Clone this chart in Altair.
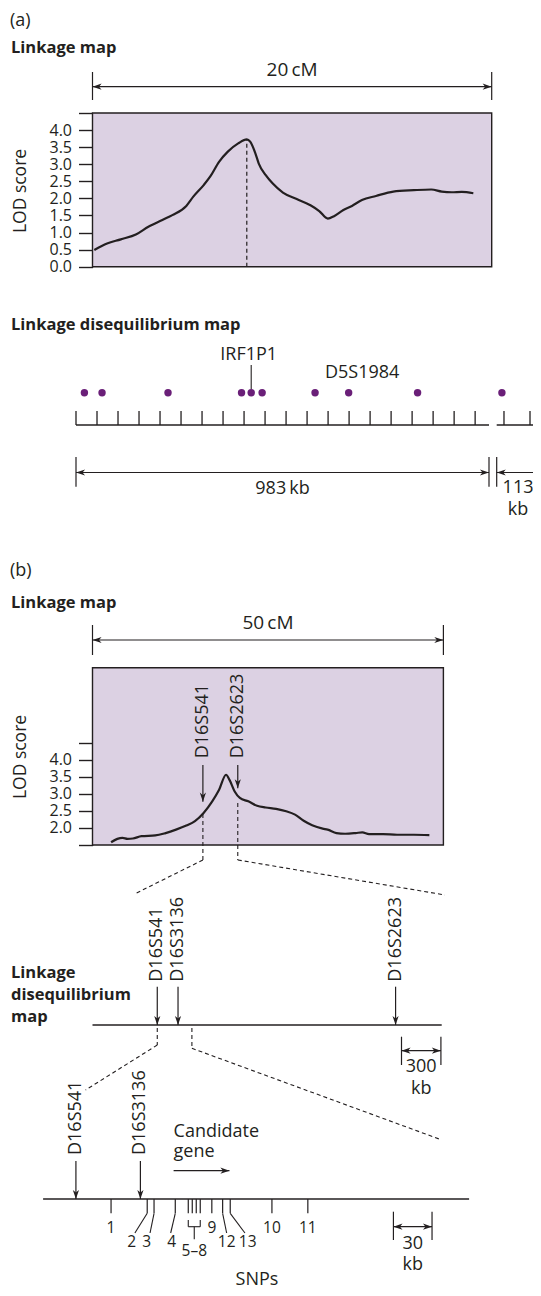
import altair as alt
import pandas as pd

FONT = "Open Sans"
INK = "#231f20"
FILL = "#dcd1e3"
PURPLE = "#6a1f78"
HEAD = "M0,0L-1,-0.34L-0.72,0L-1,0.34Z"

# ---------------- data ----------------
# (a) linkage map: LOD score along a 20 cM interval
lod_a_cm = [0.09, 0.73, 1.42, 2.2, 2.8, 3.5, 4.0, 4.7, 5.05, 5.57, 5.91, 6.34, 6.78, 7.3, 7.73,
            7.9, 8.16, 8.33, 8.68, 9.02, 9.54, 10.23, 10.92, 11.36, 11.79, 12.1, 12.57, 13.0,
            13.5, 14.2, 15.07, 16.1, 16.97, 17.5, 18.0, 18.5, 19.08]
lod_a_score = [0.49, 0.68, 0.80, 0.95, 1.17, 1.37, 1.51, 1.78, 2.05, 2.39, 2.65, 3.07, 3.37, 3.61, 3.73,
               3.66, 3.32, 3.02, 2.68, 2.44, 2.17, 1.98, 1.80, 1.63, 1.41, 1.48, 1.66, 1.78,
               1.95, 2.07, 2.20, 2.24, 2.26, 2.20, 2.18, 2.19, 2.15]
lod_a_axis_ticks = [0.0, 0.5, 1.0, 1.5, 2.0, 2.5, 3.0, 3.5, 4.0, 4.5]
lod_a_span_cm = 20

# (a) linkage disequilibrium map
ld_a_tick_kb = [0, 50, 100, 150, 200, 250, 300, 350, 400, 450, 500, 550, 600, 650, 700, 750,
                800, 850, 900, 950]
ld_a_tick2_kb = [1000, 1050]
ld_a_span_kb = 983
ld_a_span2_kb = 113
ld_a_marker_kb = [20, 62, 219, 394, 417, 443, 569, 649, 813]
ld_a_marker2_kb = [996, 1064]
ld_a_named = ["IRF1P1", "D5S1984"]
ld_a_named_kb = [417, 649]

# (b) linkage map: LOD score along a 50 cM interval
lod_b_cm = [2.65, 3.54, 4.28, 5.0, 5.75, 6.98, 8.95, 10.42, 11.9, 13.37, 14.6, 15.83, 17.06, 18.04,
            19.03, 19.52, 20.26, 21.0, 22.2, 23.45, 24.68, 26.16, 27.6, 28.86, 30.09, 31.3, 32.8,
            33.5, 34.76, 36.0, 37.5, 38.45, 39.4, 41.4, 43.4, 45.8, 48.0]
lod_b_score = [1.58, 1.68, 1.71, 1.68, 1.69, 1.76, 1.78, 1.85, 1.95, 2.07, 2.20, 2.44, 2.78, 3.12,
               3.56, 3.41, 3.07, 2.88, 2.78, 2.65, 2.60, 2.56, 2.49, 2.39, 2.21, 2.08, 1.98,
               1.95, 1.85, 1.83, 1.85, 1.87, 1.82, 1.82, 1.80, 1.80, 1.79]
lod_b_axis_ticks = [1.5, 2.0, 2.5, 3.0, 3.5, 4.0, 4.5]
lod_b_span_cm = 50
lod_b_markers = ["D16S541", "D16S2623"]
lod_b_marker_cm = [15.73, 20.7]

# (b) linkage disequilibrium map
ld_b_markers = ["D16S541", "D16S3136", "D16S2623"]
ld_b_marker_kb = [493, 651, 2307]
ld_b_length_kb = 2658
ld_b_scale_kb = 300

# (b) SNP map
snp_map_markers = ["D16S541", "D16S3136"]
snp_map_marker_kb = [25.5, 75.6]
snp_ids = ["1", "2", "3", "4", "5", "6", "7", "8", "9", "12", "13", "10", "11"]
snp_kb = [52.8, 80.9, 86.2, 102.7, 112.8, 115.9, 119.0, 122.1, 131.1, 139.5, 145.4, 177.8, 205.7]
snp_length_kb = 331
snp_scale_kb = 30
gene_kb = [101.4, 144.8]

# ---------------- layout (page pixels) ----------------
W, H, M = 525, 1280, 8
FS = 18


def sc(d0, d1, p0, p1):
    return alt.Scale(domain=[d0, d1], range=[p0 - M, p1 - M], nice=False, zero=False)


PX = sc(M, M + W, M, M + W)
PY = sc(M, M + H, M, M + H)
A_X = sc(0, lod_a_span_cm, 92.5, 491.7)
A_Y = sc(0, 4.5, 266.7, 113.0)
LDA_X = sc(0, ld_a_span_kb, 76, 489)
LDA2_X = sc(986, 986 + ld_a_span2_kb, 496.7, 555.5)
B_X = sc(0, lod_b_span_cm, 92.5, 443.4)
B_Y = sc(1.5, 6.7, 845, 667.7)
LDB_X = sc(0, ld_b_length_kb, 92.5, 441.7)
SNP_X = sc(0, snp_length_kb, 43.1, 469.1)
K_SNP = (469.1 - 43.1) / snp_length_kb


def seg(rows, xs, ys, dash=None, width=1.3):
    df = pd.DataFrame(rows, columns=["x", "y", "x2", "y2"])
    kw = dict(color=INK, strokeWidth=width)
    if dash:
        kw["strokeDash"] = dash
    return alt.Chart(df).mark_rule(**kw).encode(
        x=alt.X("x:Q", scale=xs, axis=None), x2="x2:Q",
        y=alt.Y("y:Q", scale=ys, axis=None), y2="y2:Q")


def heads(rows, xs, ys, angle, size=330):
    df = pd.DataFrame(rows, columns=["x", "y"])
    return alt.Chart(df).mark_point(shape=HEAD, filled=True, size=size, color=INK, opacity=1,
                                    strokeWidth=0, angle=angle).encode(
        x=alt.X("x:Q", scale=xs, axis=None), y=alt.Y("y:Q", scale=ys, axis=None))


def label(rows, xs, ys, size=FS, weight="normal", align="center", angle=0, dx=0):
    df = pd.DataFrame(rows, columns=["t", "x", "y"])
    return alt.Chart(df).mark_text(font=FONT, fontSize=size, fontWeight=weight, align=align,
                                   baseline="middle", angle=angle, color=INK, dx=dx).encode(
        x=alt.X("x:Q", scale=xs, axis=None), y=alt.Y("y:Q", scale=ys, axis=None), text="t:N")


def lod_axis(ticks, offset, expr):
    return alt.Axis(orient="left", offset=offset, values=ticks, labelExpr=expr, tickSize=14,
                    tickWidth=1.4, tickColor=INK, domainColor=INK, domainWidth=1.4,
                    labelFont=FONT, labelFontSize=16, labelColor=INK, labelPadding=7,
                    labelOverlap=False, labelFlush=False, labelBaseline="middle",
                    grid=False, title=None)


layers = []

# ---------- texts in page coordinates ----------
layers.append(label([("(a)", 10, 20.5), ("(b)", 10, 570.7),
                     ("Candidate", 173.6, 1132), ("gene", 173.6, 1152)], PX, PY, align="left"))
layers.append(label([("Linkage map", 11, 48), ("Linkage disequilibrium map", 11, 325),
                     ("Linkage map", 11, 603.3), ("Linkage", 11, 973.3),
                     ("disequilibrium", 11, 995), ("map", 11, 1016.7)],
                    PX, PY, size=16.5, weight="bold", align="left"))
layers.append(label([("LOD score", 21, 191), ("LOD score", 21, 757)], PX, PY, size=17.5, angle=270))
layers.append(label([("SNPs", 257, 1279.5)], PX, PY))

# ---------- (a) linkage map ----------
box_a = pd.DataFrame({"x": [0], "x2": [lod_a_span_cm], "y": [lod_a_axis_ticks[0]],
                      "y2": [lod_a_axis_ticks[-1]]})
layers.append(alt.Chart(box_a).mark_rect(fill=FILL, stroke=INK, strokeWidth=1.4).encode(
    x=alt.X("x:Q", scale=A_X, axis=None), x2="x2:Q",
    y=alt.Y("y:Q", scale=A_Y, axis=lod_axis(lod_a_axis_ticks, -(92.5 - M),
                                             "datum.value > 4.4 ? '' : format(datum.value, '.1f')")),
    y2="y2:Q"))
curve_a = pd.DataFrame({"cm": lod_a_cm, "lod": lod_a_score})
layers.append(alt.Chart(curve_a).mark_line(color=INK, strokeWidth=2.2, interpolate="monotone").encode(
    x=alt.X("cm:Q", scale=A_X, axis=None), y=alt.Y("lod:Q", scale=A_Y, axis=None)))
ipk = lod_a_score.index(max(lod_a_score))
layers.append(alt.Chart(pd.DataFrame({"x": [lod_a_cm[ipk]], "y": [0], "y2": [lod_a_score[ipk]]}))
              .mark_rule(color=INK, strokeWidth=1.2, strokeDash=[4, 3]).encode(
    x=alt.X("x:Q", scale=A_X, axis=None), y=alt.Y("y:Q", scale=A_Y, axis=None), y2="y2:Q"))
# 20 cM span bar
layers.append(seg([(0, 86.7, lod_a_span_cm, 86.7), (0, 72, 0, 100),
                   (lod_a_span_cm, 72, lod_a_span_cm, 100)], A_X, PY, width=1.2))
layers.append(heads([(0, 86.7)], A_X, PY, 180))
layers.append(heads([(lod_a_span_cm, 86.7)], A_X, PY, 0))
layers.append(label([(f"{lod_a_span_cm}\u2009cM", lod_a_span_cm / 2, 70)], A_X, PY, size=19))

# ---------- (a) LD map ----------
layers.append(seg([(0, 425, ld_a_span_kb, 425)], LDA_X, PY, width=1.5))
layers.append(seg([(k, 411, k, 425) for k in ld_a_tick_kb], LDA_X, PY))
layers.append(seg([(986, 425, 986 + ld_a_span2_kb, 425)], LDA2_X, PY, width=1.5))
layers.append(seg([(k, 411, k, 425) for k in ld_a_tick2_kb], LDA2_X, PY))
dots = pd.DataFrame({"kb": ld_a_marker_kb, "y": [392.7] * len(ld_a_marker_kb)})
layers.append(alt.Chart(dots).mark_point(shape="circle", filled=True, size=55, color=PURPLE, opacity=1).encode(
    x=alt.X("kb:Q", scale=LDA_X, axis=None), y=alt.Y("y:Q", scale=PY, axis=None)))
dots2 = pd.DataFrame({"kb": ld_a_marker2_kb, "y": [392.7] * len(ld_a_marker2_kb)})
layers.append(alt.Chart(dots2).mark_point(shape="circle", filled=True, size=55, color=PURPLE, opacity=1).encode(
    x=alt.X("kb:Q", scale=LDA2_X, axis=None), y=alt.Y("y:Q", scale=PY, axis=None)))
layers.append(seg([(ld_a_named_kb[0], 365, ld_a_named_kb[0], 389)], LDA_X, PY, width=1.1))
layers.append(label([(ld_a_named[0], ld_a_named_kb[0], 355)], LDA_X, PY, dx=-2.5))
layers.append(label([(ld_a_named[1], ld_a_named_kb[1], 373)], LDA_X, PY, dx=13.5))
# 983 kb / 113 kb span bars
layers.append(seg([(0, 472.5, ld_a_span_kb, 472.5), (0, 457, 0, 486.7),
                   (ld_a_span_kb, 457, ld_a_span_kb, 486.7)], LDA_X, PY, width=1.2))
layers.append(heads([(0, 472.5)], LDA_X, PY, 180))
layers.append(heads([(ld_a_span_kb, 472.5)], LDA_X, PY, 0))
layers.append(label([(f"{ld_a_span_kb}\u2009kb", ld_a_span_kb / 2, 489.3)], LDA_X, PY))
layers.append(seg([(986, 472.5, 986 + ld_a_span2_kb, 472.5), (986, 457, 986, 486.7)],
                  LDA2_X, PY, width=1.2))
layers.append(heads([(986, 472.5)], LDA2_X, PY, 180))
layers.append(label([(str(ld_a_span2_kb), 1027, 488), ("kb", 1027, 510)], LDA2_X, PY))

# ---------- (b) linkage map ----------
box_b = pd.DataFrame({"x": [0], "x2": [lod_b_span_cm], "y": [1.5], "y2": [6.7]})
layers.append(alt.Chart(box_b).mark_rect(fill=FILL, stroke=INK, strokeWidth=1.4).encode(
    x=alt.X("x:Q", scale=B_X, axis=None), x2="x2:Q",
    y=alt.Y("y:Q", scale=B_Y, axis=lod_axis(lod_b_axis_ticks, -(92.5 - M),
                                             "(datum.value < 1.9 || datum.value > 4.4) ? '' : format(datum.value, '.1f')")),
    y2="y2:Q"))
curve_b = pd.DataFrame({"cm": lod_b_cm, "lod": lod_b_score})
layers.append(alt.Chart(curve_b).mark_line(color=INK, strokeWidth=2.2, interpolate="monotone").encode(
    x=alt.X("cm:Q", scale=B_X, axis=None), y=alt.Y("lod:Q", scale=B_Y, axis=None)))
layers.append(seg([(0, 640, lod_b_span_cm, 640), (0, 625, 0, 655),
                   (lod_b_span_cm, 625, lod_b_span_cm, 655)], B_X, PY, width=1.2))
layers.append(heads([(0, 640)], B_X, PY, 180))
layers.append(heads([(lod_b_span_cm, 640)], B_X, PY, 0))
layers.append(label([(f"{lod_b_span_cm}\u2009cM", lod_b_span_cm / 2, 623.3)], B_X, PY, size=19))
# markers on the LOD curve
tips_b = [801.7, 788.3]
dash_top_b = [814, 803]
layers.append(label([(n, c, 758.3) for n, c in zip(lod_b_markers, lod_b_marker_cm)], B_X, PY,
                    align="left", angle=270))
layers.append(seg([(c, 765, c, t) for c, t in zip(lod_b_marker_cm, tips_b)], B_X, PY, width=1.2))
layers.append(heads([(c, t) for c, t in zip(lod_b_marker_cm, tips_b)], B_X, PY, 90))
layers.append(seg([(c, d, c, 860) for c, d in zip(lod_b_marker_cm, dash_top_b)], B_X, PY,
                  dash=[4, 3], width=1.1))
layers.append(seg([(202.9, 860, 133.9, 894.3), (237.8, 860, 445, 895)], PX, PY,
                  dash=[4, 3], width=1.1))

# ---------- (b) LD map ----------
layers.append(seg([(0, 1025, ld_b_length_kb, 1025)], LDB_X, PY, width=1.6))
layers.append(label([(n, k, 981.7) for n, k in zip(ld_b_markers, ld_b_marker_kb)], LDB_X, PY,
                    align="left", angle=270))
layers.append(seg([(k, 986.7, k, 1025) for k in ld_b_marker_kb], LDB_X, PY, width=1.2))
layers.append(heads([(k, 1025) for k in ld_b_marker_kb], LDB_X, PY, 90))
sb0 = 2352
layers.append(seg([(sb0, 1050.7, sb0 + ld_b_scale_kb, 1050.7), (sb0, 1036.7, sb0, 1065),
                   (sb0 + ld_b_scale_kb, 1036.7, sb0 + ld_b_scale_kb, 1065)], LDB_X, PY, width=1.2))
layers.append(heads([(sb0, 1050.7)], LDB_X, PY, 180))
layers.append(heads([(sb0 + ld_b_scale_kb, 1050.7)], LDB_X, PY, 0))
layers.append(label([(str(ld_b_scale_kb), sb0 + ld_b_scale_kb / 2, 1066.7),
                     ("kb", sb0 + ld_b_scale_kb / 2, 1089.3)], LDB_X, PY))
layers.append(seg([(ld_b_marker_kb[0], 1028, ld_b_marker_kb[0], 1045)], LDB_X, PY,
                  dash=[4, 3], width=1.1))
layers.append(seg([(157.3, 1045, 85.6, 1090), (191.9, 1028, 191.9, 1048.3),
                   (191.9, 1048.3, 440, 1139.3)], PX, PY, dash=[4, 3], width=1.1))

# ---------- (b) SNP map ----------
layers.append(seg([(0, 1199, snp_length_kb, 1199)], SNP_X, PY, width=1.6))
layers.append(label([(n, k, 1155) for n, k in zip(snp_map_markers, snp_map_marker_kb)], SNP_X, PY,
                    align="left", angle=270))
layers.append(seg([(k, 1161, k, 1199) for k in snp_map_marker_kb], SNP_X, PY, width=1.2))
layers.append(heads([(k, 1199) for k in snp_map_marker_kb], SNP_X, PY, 90))
layers.append(seg([(gene_kb[0], 1170.7, gene_kb[1], 1170.7)], SNP_X, PY, width=1.2))
layers.append(heads([(gene_kb[1], 1170.7)], SNP_X, PY, 0))
layers.append(seg([(k, 1199, k, 1213.3) for k in snp_kb], SNP_X, PY, width=1.2))

snp_pos = dict(zip(snp_ids, snp_kb))
# label placement: (label x offset px, label y, leader end offset px or None)
snp_label_layout = {
    "1": (0, 1228.3, None), "2": (-15.6, 1241.7, -12.3), "3": (-7.3, 1241.7, -4.0),
    "4": (-3.6, 1241.7, -4.6), "9": (0, 1228.3, None), "12": (4.0, 1241.7, 4.0),
    "13": (17.4, 1241.7, 14.7), "10": (0, 1228.3, None), "11": (0, 1228.3, None),
}
snp_lab_rows, leader_rows = [], []
for sid, (dxl, yl, dle) in snp_label_layout.items():
    k = snp_pos[sid]
    snp_lab_rows.append((sid, k + dxl / K_SNP, yl))
    if dle is not None:
        leader_rows.append((k, 1213.3, k + dle / K_SNP, 1233))
grp = [snp_pos[s] for s in ["5", "6", "7", "8"]]
gmid = (grp[0] + grp[-1]) / 2
snp_lab_rows.append(("5\u20138", gmid, 1250.7))
leader_rows += [(grp[0], 1220, grp[0], 1226.7), (grp[-1], 1220, grp[-1], 1226.7),
                (grp[0], 1226.7, grp[-1], 1226.7), (gmid, 1226.7, gmid, 1239.3)]
layers.append(label(snp_lab_rows, SNP_X, PY, size=15.5))
layers.append(seg(leader_rows, SNP_X, PY, width=1.1))
s0 = 272.2
layers.append(seg([(s0, 1226.7, s0 + snp_scale_kb, 1226.7), (s0, 1211.7, s0, 1240),
                   (s0 + snp_scale_kb, 1211.7, s0 + snp_scale_kb, 1240)], SNP_X, PY, width=1.2))
layers.append(heads([(s0, 1226.7)], SNP_X, PY, 180))
layers.append(heads([(s0 + snp_scale_kb, 1226.7)], SNP_X, PY, 0))
layers.append(label([(str(snp_scale_kb), s0 + snp_scale_kb / 2, 1244),
                     ("kb", s0 + snp_scale_kb / 2, 1265)], SNP_X, PY))

chart = alt.layer(*layers).resolve_scale(x="independent", y="independent").properties(
    width=W, height=H, autosize=alt.AutoSizeParams(type="none"), padding=0,
    background="white").configure_view(stroke=None)

chart.save("out.html", embed_options={"renderer": "svg", "actions": False})
